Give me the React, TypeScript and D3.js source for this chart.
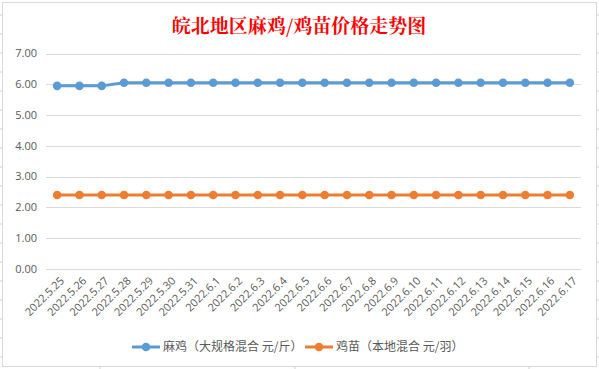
import { useEffect, useRef } from 'react';
import * as d3 from 'd3';

const dates = [
  '2022.5.25', '2022.5.26', '2022.5.27', '2022.5.28', '2022.5.29', '2022.5.30', '2022.5.31',
  '2022.6.1', '2022.6.2', '2022.6.3', '2022.6.4', '2022.6.5', '2022.6.6', '2022.6.7',
  '2022.6.8', '2022.6.9', '2022.6.10', '2022.6.11', '2022.6.12', '2022.6.13', '2022.6.14',
  '2022.6.15', '2022.6.16', '2022.6.17'
];
const maji = [
  5.95, 5.95, 5.95, 6.05, 6.05, 6.05, 6.05, 6.05, 6.05, 6.05, 6.05, 6.05,
  6.05, 6.05, 6.05, 6.05, 6.05, 6.05, 6.05, 6.05, 6.05, 6.05, 6.05, 6.05
];
const jimiao = [
  2.4, 2.4, 2.4, 2.4, 2.4, 2.4, 2.4, 2.4, 2.4, 2.4, 2.4, 2.4,
  2.4, 2.4, 2.4, 2.4, 2.4, 2.4, 2.4, 2.4, 2.4, 2.4, 2.4, 2.4
];
const yTicks = [0, 1, 2, 3, 4, 5, 6, 7];
const seriesNames = ['麻鸡（大规格混合 元/斤）', '鸡苗（本地混合 元/羽）'];
const seriesColors = ['#5B9BD5', '#ED7D31'];
const title = '皖北地区麻鸡/鸡苗价格走势图';

export default function App() {
  const svgRef = useRef<SVGSVGElement>(null);

  useEffect(() => {
    if (!svgRef.current) return;
    const svg = d3.select(svgRef.current);
    svg.selectAll('*').remove();

    const W = 599;
    const H = 369;
    const left = 46, right = 581, top = 53.6, bottom = 268.7;
    const textColor = '#595959';
    const tickFont = '"Open Sans", "Noto Sans", sans-serif';
    const cjkFont = '"Noto Sans CJK SC", sans-serif';

    svg.append('rect').attr('width', W).attr('height', H).attr('fill', '#fff');

    // spreadsheet row/column marks outside the chart frame
    const rowMarks = d3.range(15, H, 19);
    svg.append('g').selectAll('line').data(rowMarks).enter().append('line')
      .attr('x1', 0).attr('x2', 2).attr('y1', d => d).attr('y2', d => d)
      .attr('stroke', '#d0d0d0');
    svg.append('g').selectAll('line').data(rowMarks).enter().append('line')
      .attr('x1', 597).attr('x2', 599).attr('y1', d => d).attr('y2', d => d)
      .attr('stroke', '#d0d0d0');
    svg.append('g').selectAll('line').data([100, 295, 529]).enter().append('line')
      .attr('x1', d => d).attr('x2', d => d).attr('y1', 367).attr('y2', 369)
      .attr('stroke', '#d0d0d0');

    // chart frame
    svg.append('rect')
      .attr('x', 2.5).attr('y', 2.5).attr('width', 594).attr('height', 364)
      .attr('fill', '#fff').attr('stroke', '#d9d9d9');

    const x = d3.scaleBand<string>().domain(dates).range([left, right]);
    const y = d3.scaleLinear().domain([0, 7]).range([bottom, top]);
    const cx = (d: string) => (x(d) || 0) + x.bandwidth() / 2;

    // gridlines
    svg.append('g').selectAll('line').data(yTicks).enter().append('line')
      .attr('x1', left).attr('x2', right)
      .attr('y1', d => Math.round(y(d)) + 0.5).attr('y2', d => Math.round(y(d)) + 0.5)
      .attr('stroke', '#d9d9d9').attr('stroke-width', 1);

    // y labels
    svg.append('g').selectAll('text').data(yTicks).enter().append('text')
      .attr('x', 37).attr('y', d => y(d)).attr('dy', '0.35em')
      .attr('text-anchor', 'end')
      .attr('font-family', tickFont).attr('font-size', 11).attr('fill', textColor)
      .text(d => d3.format('.2f')(d));

    // x labels
    svg.append('g').selectAll('text').data(dates).enter().append('text')
      .attr('transform', d => `translate(${cx(d) + 5},${bottom + 10}) rotate(-45)`)
      .attr('dy', '0.35em')
      .attr('text-anchor', 'end')
      .attr('font-family', tickFont).attr('font-size', 11).attr('fill', textColor)
      .text(d => d);

    // series
    const series = [maji, jimiao];
    series.forEach((vals, i) => {
      const pts = dates.map((d, j) => [cx(d), y(vals[j])] as [number, number]);
      svg.append('path')
        .attr('d', d3.line()(pts) || '')
        .attr('fill', 'none').attr('stroke', seriesColors[i])
        .attr('stroke-width', 3).attr('stroke-linejoin', 'round').attr('stroke-linecap', 'round');
      svg.append('g').selectAll('circle').data(pts).enter().append('circle')
        .attr('cx', p => p[0]).attr('cy', p => p[1]).attr('r', 4.3)
        .attr('fill', seriesColors[i]);
    });

    // title
    svg.append('text')
      .attr('x', 299).attr('y', 33)
      .attr('text-anchor', 'middle')
      .attr('font-family', '"Noto Serif CJK SC", "Noto Sans CJK SC", serif')
      .attr('font-weight', 'bold').attr('font-size', 19)
      .attr('fill', '#ff0000')
      .text(title);

    // legend
    const legendY = 347;
    const legendX = [132, 305];
    seriesNames.forEach((name, i) => {
      const lx = legendX[i];
      svg.append('line')
        .attr('x1', lx).attr('x2', lx + 28).attr('y1', legendY).attr('y2', legendY)
        .attr('stroke', seriesColors[i]).attr('stroke-width', 3);
      svg.append('circle').attr('cx', lx + 14).attr('cy', legendY).attr('r', 4.3)
        .attr('fill', seriesColors[i]);
      svg.append('text')
        .attr('x', lx + 31).attr('y', legendY).attr('dy', '0.35em')
        .attr('font-family', cjkFont).attr('font-size', 12).attr('fill', textColor)
        .text(name);
    });
  }, []);

  return (
    <div style={{ position: 'absolute', left: 0, top: 0 }}>
      <svg ref={svgRef} width={599} height={369} style={{ display: 'block' }} />
    </div>
  );
}
